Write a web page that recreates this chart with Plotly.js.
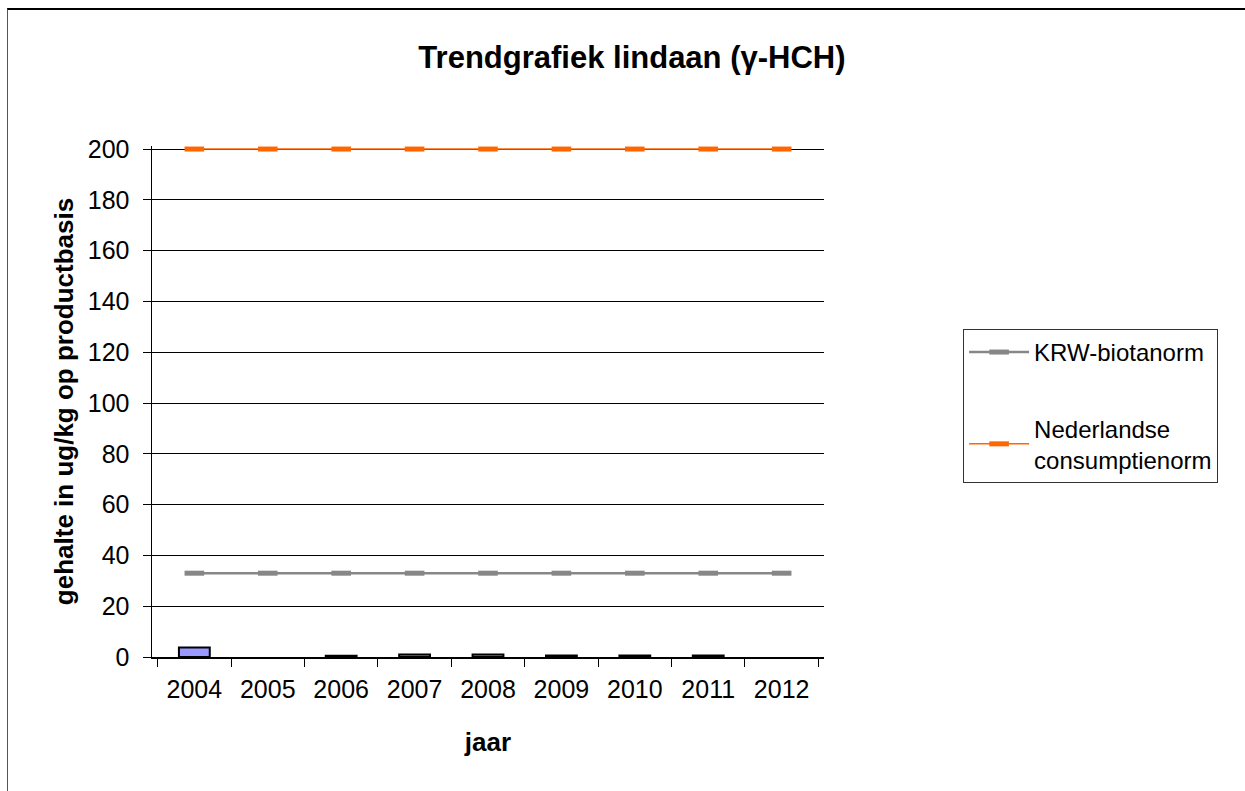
<!DOCTYPE html>
<html>
<head>
<meta charset="utf-8">
<script src="https://cdn.plot.ly/plotly-3.0.1.min.js"></script>
<style>
  html, body { margin: 0; padding: 0; background: #fff; }
  #chart { width: 1245px; height: 791px; }
  #frame { position: absolute; left: 7px; top: 8px; width: 1240px; height: 790px;
           border-top: 2px solid #000; border-left: 1px solid #555; pointer-events: none; }
</style>
</head>
<body>
<div id="chart"></div>
<div id="frame"></div>
<script>
const years = ['2004','2005','2006','2007','2008','2009','2010','2011','2012'];
const gehalte = [3.7, null, 0.5, 1.0, 1.0, 0.6, 0.6, 0.6, null];
const krwNorm = [33, 33, 33, 33, 33, 33, 33, 33, 33];
const nlNorm = [200, 200, 200, 200, 200, 200, 200, 200, 200];
const yTicks = [0, 20, 40, 60, 80, 100, 120, 140, 160, 180, 200];

const traces = [
  {
    type: 'bar', x: years, y: gehalte, showlegend: false, width: 0.42,
    marker: { color: '#9999FF', line: { color: '#000', width: 2 } },
    hoverinfo: 'skip'
  },
  {
    type: 'scatter', mode: 'lines+markers', x: years, y: krwNorm,
    name: 'KRW-biotanorm', legendgroup: 'a', cliponaxis: false,
    line: { color: '#878787', width: 2.5 },
    marker: { symbol: 'line-ew-open', size: 14, line: { color: '#878787', width: 5 } }
  },
  {
    type: 'scatter', mode: 'lines+markers', x: years, y: nlNorm,
    name: 'Nederlandse<br>consumptienorm', legendgroup: 'b', cliponaxis: false,
    line: { color: '#FF6600', width: 1.5 },
    marker: { symbol: 'line-ew-open', size: 14, line: { color: '#FF6600', width: 5 } }
  }
];

const layout = {
  width: 1245, height: 791,
  margin: { l: 152, r: 421, t: 146, b: 134 },
  paper_bgcolor: '#fff', plot_bgcolor: '#fff',
  font: { family: 'Liberation Sans, Arial, sans-serif', color: '#000', size: 25 },
  title: {
    text: '<b>Trendgrafiek lindaan (γ-HCH)</b>',
    font: { size: 31, color: '#000' },
    x: 0.5076, xanchor: 'center', y: 0.928, yanchor: 'middle'
  },
  xaxis: {
    type: 'category', tickvals: years, ticktext: years,
    showline: true, linecolor: '#000', linewidth: 1.5,
    ticks: 'outside', tickson: 'boundaries', ticklen: 8, tickcolor: '#000',
    ticklabelstandoff: 9,
    showgrid: false, tickfont: { size: 25 },
    title: { text: '<b>jaar</b>', font: { size: 26 }, standoff: 31 }
  },
  yaxis: {
    range: [0, 201.2], tickvals: yTicks, ticktext: yTicks.map(String),
    showline: true, linecolor: '#000', linewidth: 1.5,
    ticks: 'outside', ticklen: 8, tickcolor: '#000',
    ticklabelstandoff: 8,
    showgrid: true, gridcolor: '#000', gridwidth: 1, zeroline: false,
    tickfont: { size: 25 },
    title: { text: '<b>gehalte in ug/kg op productbasis</b>', font: { size: 26 }, standoff: 6 }
  },
  legend: {
    x: 1.207, xanchor: 'left', y: 0.642, yanchor: 'top',
    bordercolor: '#333', borderwidth: 1, bgcolor: '#fff',
    font: { size: 24 }, tracegroupgap: 42, itemwidth: 60,
    traceorder: 'grouped'
  },
  showlegend: true
};

Plotly.newPlot('chart', traces, layout, { displayModeBar: false, staticPlot: true });
</script>
</body>
</html>
